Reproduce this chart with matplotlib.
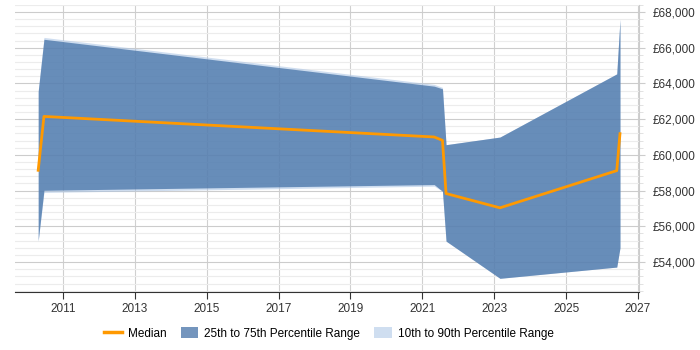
import matplotlib
matplotlib.use("Agg")
import matplotlib.pyplot as plt
from matplotlib.ticker import MultipleLocator, FuncFormatter
from matplotlib.patches import Patch
from matplotlib.lines import Line2D

plt.rcParams['font.family'] = ['Liberation Sans', 'DejaVu Sans']

years = [2010.31, 2010.47, 2021.33, 2021.56, 2021.66, 2023.16, 2026.41, 2026.50]
median = [59140, 62155, 61004, 60816, 57838, 57038, 59120, 61190]
p25 = [55200, 58020, 58340, 57966, 55174, 53090, 53720, 54800]
p75 = [63550, 66475, 63850, 63700, 60573, 61000, 64538, 67590]
p10 = [55150, 57900, 58250, 57966, 55174, 53090, 53720, 54800]
p90 = [63600, 66580, 63950, 63780, 60573, 61000, 64538, 67590]

fig = plt.figure(figsize=(7, 3.5), dpi=100)
ax = fig.add_axes([0.0214, 0.166, 0.8915, 0.82])

ax.fill_between(years, p10, p90, color='#a9c3e4', alpha=0.55, lw=0, zorder=2)
ax.fill_between(years, p25, p75, color='#4572a7', alpha=0.75, lw=0, zorder=3)
ax.plot(years, median, color='#ff9900', lw=2, zorder=4)

ax.set_xlim(2009.664, 2027.03)
ax.set_ylim(52330, 68400)

ax.xaxis.set_major_locator(MultipleLocator(2, offset=1))
ax.yaxis.set_major_locator(MultipleLocator(2000))
ax.yaxis.set_minor_locator(MultipleLocator(400))
ax.yaxis.set_major_formatter(FuncFormatter(lambda v, p: '£{:,.0f}'.format(v)))
ax.yaxis.tick_right()

ax.grid(which='major', axis='y', color='#cccccc', lw=0.8, zorder=0)
ax.grid(which='minor', axis='y', color='#ececec', lw=0.8, zorder=0)
ax.grid(which='major', axis='x', color='#d0d0d0', lw=0.8, zorder=0)
ax.set_axisbelow(True)

for s in ['top', 'left']:
    ax.spines[s].set_visible(False)
ax.spines['right'].set_color('#cccccc')
ax.spines['bottom'].set_color('#333333')

ax.tick_params(axis='x', which='major', length=5, color='#333333', labelsize=8.5, labelcolor='#333333', pad=3)
ax.tick_params(axis='y', which='major', length=4, color='#cccccc', labelsize=8.5, labelcolor='#333333', pad=6)
ax.tick_params(axis='y', which='minor', length=3, color='#dddddd')

handles = [Line2D([0], [0], color='#ff9900', lw=2.5),
           Patch(facecolor='#4572a7', alpha=0.75, edgecolor='none'),
           Patch(facecolor='#a9c3e4', alpha=0.55, edgecolor='none')]
labels = ['Median', '25th to 75th Percentile Range', '10th to 90th Percentile Range']
fig.legend(handles, labels, loc='center', bbox_to_anchor=(0.47, 0.047), ncol=3, frameon=False,
           fontsize=8.5, handlelength=1.5, handleheight=1.0, columnspacing=1.2, handletextpad=0.5)

fig.savefig('out.png', dpi=100)
